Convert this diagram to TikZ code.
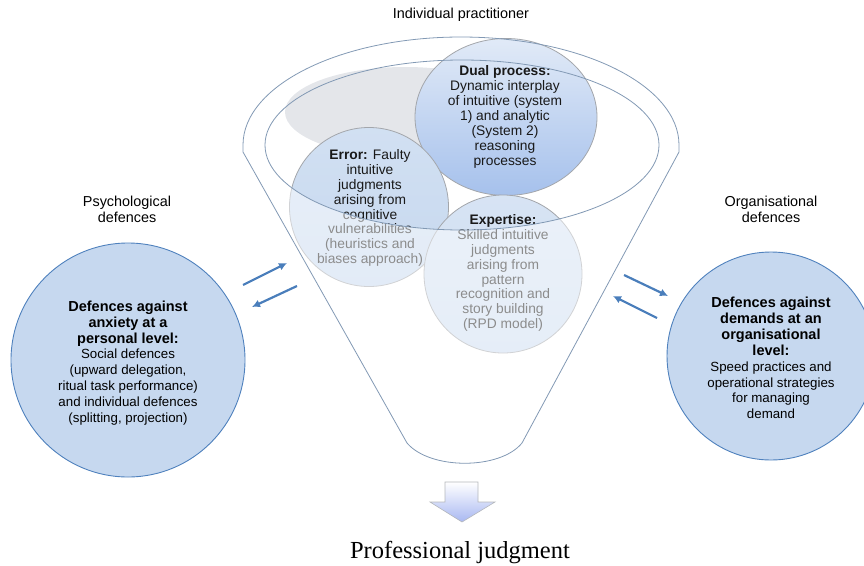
\documentclass[tikz,border=0pt]{standalone}
\usepackage{fontspec}
\setmainfont{Liberation Sans}
\newfontfamily\serifpj{Liberation Serif}
\usetikzlibrary{arrows.meta,shapes.geometric}
\definecolor{bigfill}{HTML}{C6D8EF}
\definecolor{bigline}{HTML}{4F81BD}
\definecolor{arrowblue}{HTML}{4A7EBB}
\definecolor{funnelline}{HTML}{8299B4}
\definecolor{innerline}{HTML}{A3A6AB}
\definecolor{shadowgrey}{HTML}{E4E6EA}
\definecolor{dualtop}{HTML}{E1EAF7}
\definecolor{dualbot}{HTML}{A6C1EC}
\newcommand\bigbold[1]{{\fontsize{14.5}{15.9}\selectfont\bfseries #1}}
\tikzset{
  bigcircle/.style={circle, draw=bigline, line width=0.9pt, fill=bigfill, minimum size=#1},
  innercircle/.style={circle, draw=innerline, line width=0.8pt, minimum size=#1},
  lbl/.style={align=center, font=\fontsize{14.4}{16}\selectfont},
  bigtext/.style={align=center, font=\fontsize{13.3}{15.9}\selectfont},
  intext/.style={align=center, font=\fontsize{13.8}{14.9}\selectfont, text=black!90},
  funnel/.style={draw=funnelline, line width=0.8pt},
  dblarrow/.style={draw=arrowblue, line width=2.2pt, -{Latex[length=8pt,width=8pt]}},
}
\begin{document}
\begin{tikzpicture}[x=1pt,y=-1pt]
\useasboundingbox (0,0) rectangle (864,565);
% grey shadow inside funnel
\fill[shadowgrey] (405,112) ellipse [x radius=120pt, y radius=45pt];
% inner circles
\node[ellipse, draw=innerline, line width=0.8pt, minimum width=182pt, minimum height=157pt, top color=dualtop, bottom color=dualbot] (dual) at (506,117) {};
\node[innercircle=159pt, top color=bigfill!80!white, bottom color=bigfill] (err) at (369,207) {};
\node[innercircle=158pt, top color=bigfill!70!white, bottom color=bigfill!90!white] (expt) at (503,274) {};
% texts of inner circles
\node[intext] (dualtxt) at (505,117) {\textbf{Dual process:}\\Dynamic interplay\\of intuitive (system\\1) and analytic\\(System 2)\\reasoning\\processes};
\node[intext] (errtxt) at (370,208) {\textbf{Error:} Faulty\\intuitive\\judgments\\arising from\\cognitive\\vulnerabilities\\(heuristics and\\biases approach)};
\node[intext] (expttxt) at (503,273) {\textbf{Expertise:}\\Skilled intuitive\\judgments\\arising from\\pattern\\recognition and\\story building\\(RPD model)};
% translucent funnel body below the inner ellipse
\fill[white, opacity=0.5] (265,145) arc[start angle=180, end angle=360, x radius=197pt, y radius=85pt]
  -- (679,152) -- (522,443) .. controls (500,470) and (430,470) .. (407,443) -- (243,152) -- cycle;
% funnel outline
\draw[funnel] (243,145) arc[start angle=180, end angle=0, x radius=218pt, y radius=108pt]
  -- (679,152) -- (522,443) .. controls (500,470) and (430,470) .. (407,443) -- (243,152) -- cycle;
\draw[funnel] (462,145) ellipse [x radius=197pt, y radius=85pt];
% labels
\node[lbl] (indiv) at (461,15) {Individual practitioner};
\node[lbl] (psych) at (127,209) {Psychological\\defences};
\node[lbl] (orgl) at (771,209) {Organisational\\defences};
% big circles
\node[bigcircle=234pt] (left) at (128,360) {};
\node[bigcircle=208pt] (right) at (771,356) {};
\node[bigtext] (lefttxt) at (128,363) {\bigbold{Defences against}\\\bigbold{anxiety at a}\\\bigbold{personal level:}\\Social defences\\(upward delegation,\\ritual task performance)\\and individual defences\\(splitting, projection)};
\node[bigtext] (righttxt) at (771,358) {\bigbold{Defences against}\\\bigbold{demands at an}\\\bigbold{organisational}\\\bigbold{level:}\\Speed practices and\\operational strategies\\for managing\\demand};
% double arrows
\coordinate (la1) at (243,285);
\coordinate (la2) at (287,263);
\coordinate (lb1) at (297,286);
\coordinate (lb2) at (252,307);
\coordinate (ra1) at (624,275);
\coordinate (ra2) at (668,296);
\coordinate (rb1) at (657,318);
\coordinate (rb2) at (613,296);
\draw[dblarrow] (la1) -- (la2);
\draw[dblarrow] (lb1) -- (lb2);
\draw[dblarrow] (ra1) -- (ra2);
\draw[dblarrow] (rb1) -- (rb2);
% down block arrow
\path[draw=innerline!80!white, line width=0.6pt, top color=white, bottom color=bigfill!85!blue]
  (445,482) -- (478,482) -- (478,502) -- (495,502) -- (462,522) -- (430,502) -- (445,502) -- cycle;
\coordinate (downarrow) at (462,502);
\node[anchor=base, font=\serifpj\fontsize{24.5}{28}\selectfont, inner sep=0pt] (pj) at (460,558) {Professional judgment};
\end{tikzpicture}
\end{document}
